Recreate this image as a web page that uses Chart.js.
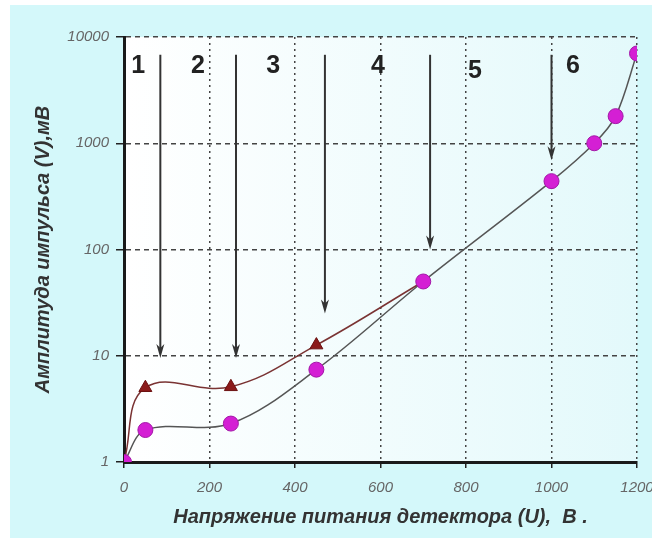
<!DOCTYPE html>
<html>
<head>
<meta charset="utf-8">
<script src="https://cdn.jsdelivr.net/npm/chart.js@4"></script>
<style>
  html, body { margin: 0; padding: 0; background: #ffffff; }
  canvas { display: block; }
</style>
</head>
<body>
<canvas id="chart" width="652" height="543"></canvas>
<script>
// ── Data ──────────────────────────────────────────────
const xTicks = [0, 200, 400, 600, 800, 1000, 1200];
const yTicks = [1, 10, 100, 1000, 10000];

// magenta circles
const circleU = [0, 50, 250, 450, 700, 1000, 1100, 1150, 1200];
const circleV = [1, 2, 2.3, 7.4, 50, 440, 1000, 1800, 7000];

// dark red triangles (joins the circle curve at 700 V)
const triU = [0, 50, 250, 450, 700];
const triV = [1, 5, 5.1, 12.6, 50];

// region arrows and their numbers
const arrowU = [85, 262, 470, 716, 1000];
const arrowTip = [9.5, 9.5, 25, 100, 690];
const arrowTop = 6800;
const regionLabels = ['1', '2', '3', '4', '5', '6'];
const regionU = [33, 173, 349, 594, 821, 1050];
const regionV = [5300, 5300, 5300, 5300, 4800, 5300];

// ── Plugins ───────────────────────────────────────────
const backgroundPlugin = {
    id: 'background',
    beforeDraw(chart) {
        const { ctx, chartArea: a } = chart;
        ctx.save();
        ctx.fillStyle = '#ffffff';
        ctx.fillRect(0, 0, chart.width, chart.height);
        ctx.fillStyle = '#d4f8fa';
        ctx.fillRect(10, 5, chart.width - 10, chart.height - 10);
        const g = ctx.createLinearGradient(a.left, 0, a.right, 0);
        g.addColorStop(0, '#ffffff');
        g.addColorStop(1, '#e3f9fb');
        ctx.fillStyle = g;
        ctx.fillRect(a.left, a.top, a.right - a.left, a.bottom - a.top);
        ctx.restore();
    }
};

const arrowsPlugin = {
    id: 'arrows',
    afterDatasetsDraw(chart) {
        const { ctx, scales: { x, y } } = chart;
        ctx.save();
        ctx.strokeStyle = '#333333';
        ctx.fillStyle = '#333333';
        ctx.lineWidth = 2;
        arrowU.forEach((u, i) => {
            const px = x.getPixelForValue(u);
            const top = y.getPixelForValue(arrowTop);
            const tip = y.getPixelForValue(arrowTip[i]);
            ctx.beginPath();
            ctx.moveTo(px, top);
            ctx.lineTo(px, tip - 6);
            ctx.stroke();
            ctx.beginPath();
            ctx.moveTo(px, tip);
            ctx.lineTo(px - 4, tip - 14);
            ctx.lineTo(px, tip - 10);
            ctx.lineTo(px + 4, tip - 14);
            ctx.closePath();
            ctx.fill();
        });
        ctx.font = "bold 25px 'Liberation Sans', Arial, sans-serif";
        ctx.fillStyle = '#222222';
        ctx.textAlign = 'center';
        ctx.textBaseline = 'middle';
        regionLabels.forEach((t, i) => {
            ctx.fillText(t, x.getPixelForValue(regionU[i]), y.getPixelForValue(regionV[i]));
        });
        ctx.restore();
    }
};

// ── Chart ─────────────────────────────────────────────
const tickFont = { family: "'Liberation Sans', Arial, sans-serif", size: 15, style: 'italic' };
const titleFont = { family: "'Liberation Sans', Arial, sans-serif", size: 20, style: 'italic', weight: 'bold' };

new Chart(document.getElementById('chart'), {
    type: 'line',
    data: {
        datasets: [
            {
                label: 'circles',
                data: circleU.map((u, i) => ({ x: u, y: circleV[i] })),
                borderColor: '#555555',
                borderWidth: 1.5,
                tension: 0.35,
                pointStyle: 'circle',
                pointRadius: 7.5,
                pointBackgroundColor: '#d41fd4',
                pointBorderColor: '#a318a8',
                pointBorderWidth: 1,
                order: 1
            },
            {
                label: 'triangles',
                data: triU.map((u, i) => ({ x: u, y: triV[i] })),
                borderColor: '#7a3333',
                borderWidth: 1.5,
                tension: 0.4,
                pointStyle: 'triangle',
                pointRadius: triU.map((u, i) => (i === 0 || i === triU.length - 1) ? 0 : 7.5),
                pointBackgroundColor: '#8b1a1a',
                pointBorderColor: '#6b1010',
                pointBorderWidth: 1,
                order: 2
            }
        ]
    },
    options: {
        responsive: false,
        animation: false,
        layout: { padding: { left: 10, top: 37, right: 15, bottom: 0 } },
        plugins: {
            legend: { display: false },
            tooltip: { enabled: false }
        },
        scales: {
            x: {
                type: 'linear',
                min: 0,
                max: 1200,
                afterBuildTicks: (scale) => { scale.ticks = xTicks.map(v => ({ value: v })); },
                afterFit: (scale) => {
                    scale.height = 81;
                    scale.paddingLeft = 0;
                    scale.paddingRight = 0;
                },
                border: { color: '#1a1a1a', width: 3, dash: [2, 4] },
                grid: {
                    color: (c) => c.tick && c.tick.value === 0 ? 'rgba(0,0,0,0)' : '#444444',
                    lineWidth: 1.5,
                    tickColor: '#222222',
                    tickLength: 6
                },
                ticks: {
                    font: tickFont,
                    color: '#666666',
                    padding: 11,
                    callback: (v) => String(v)
                },
                title: {
                    display: true,
                    text: 'Напряжение питания детектора (U),  В .',
                    font: titleFont,
                    color: '#333333',
                    padding: { top: 0, bottom: 14 }
                }
            },
            y: {
                type: 'logarithmic',
                min: 1,
                max: 10000,
                afterBuildTicks: (scale) => { scale.ticks = yTicks.map(v => ({ value: v })); },
                afterFit: (scale) => {
                    scale.width = 114;
                    scale.paddingTop = 0;
                    scale.paddingBottom = 0;
                },
                border: { color: '#1a1a1a', width: 3, dash: [5, 4] },
                grid: {
                    color: (c) => c.tick && c.tick.value === 1 ? 'rgba(0,0,0,0)' : '#444444',
                    lineWidth: 1.5,
                    tickColor: '#222222',
                    tickLength: 8
                },
                ticks: {
                    font: tickFont,
                    color: '#666666',
                    padding: 7,
                    callback: (v) => String(v)
                },
                title: {
                    display: true,
                    text: 'Амплитуда импульса (V),мВ',
                    font: titleFont,
                    color: '#333333',
                    padding: { top: 21, bottom: 0 }
                }
            }
        }
    },
    plugins: [backgroundPlugin, arrowsPlugin]
});
</script>
</body>
</html>
